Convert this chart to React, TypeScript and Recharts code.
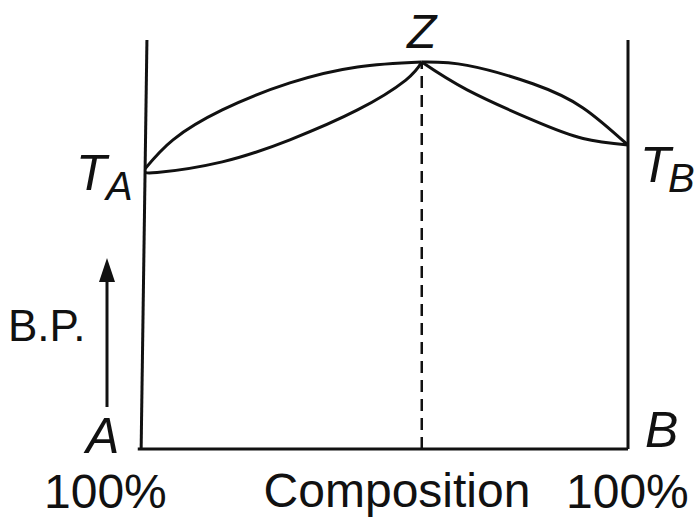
import React from 'react';
import { ComposedChart, XAxis, YAxis, Line, ReferenceLine } from 'recharts';

// composition of B (%) vs boiling point (relative units)
const vaporLeft = [
  { x: 0, y: 68.5 },
  { x: 5.8, y: 75.6 },
  { x: 16, y: 82.9 },
  { x: 30, y: 89.5 },
  { x: 44, y: 93.4 },
  { x: 57.3, y: 94.6 },
];
const liquidLeft = [
  { x: 0, y: 68 },
  { x: 2.5, y: 67.6 },
  { x: 16, y: 70.2 },
  { x: 30, y: 75.6 },
  { x: 44, y: 82.9 },
  { x: 54, y: 90.2 },
  { x: 57.3, y: 94.6 },
];
const vaporRight = [
  { x: 57.3, y: 94.6 },
  { x: 66.7, y: 93.8 },
  { x: 80.3, y: 89.3 },
  { x: 90.7, y: 83.4 },
  { x: 100, y: 74.3 },
];
const liquidRight = [
  { x: 57.3, y: 94.6 },
  { x: 66.7, y: 87.8 },
  { x: 80.3, y: 80.4 },
  { x: 90.7, y: 75.9 },
  { x: 100, y: 74.3 },
];
const azeotropeX = 57.3;
const azeotropeY = 94.6;

const ink = '#111';
const font = '"Liberation Sans", Arial, sans-serif';

export default function App() {
  const curve = (data: { x: number; y: number }[], key: string) => (
    <Line
      key={key}
      data={data}
      dataKey="y"
      type="natural"
      stroke={ink}
      strokeWidth={3}
      dot={false}
      activeDot={false}
      isAnimationActive={false}
    />
  );
  return (
    <div style={{ position: 'absolute', left: 0, top: 0, width: 697, height: 520, background: '#fff' }}>
      <ComposedChart width={697} height={520} margin={{ top: 40, right: 69, bottom: 71, left: 145 }}>
        <XAxis type="number" dataKey="x" domain={[0, 100]} hide allowDataOverflow />
        <YAxis type="number" domain={[0, 100]} hide allowDataOverflow />
        <ReferenceLine segment={[{ x: -0.8, y: 0 }, { x: 0.4, y: 100 }]} stroke={ink} strokeWidth={3} ifOverflow="visible" />
        <ReferenceLine segment={[{ x: 100, y: 0 }, { x: 100, y: 100 }]} stroke={ink} strokeWidth={3} ifOverflow="visible" />
        <ReferenceLine segment={[{ x: -1.5, y: 0 }, { x: 100, y: 0 }]} stroke={ink} strokeWidth={3} ifOverflow="visible" />
        <ReferenceLine
          segment={[{ x: azeotropeX, y: 0 }, { x: azeotropeX, y: azeotropeY }]}
          stroke={ink}
          strokeWidth={2.5}
          strokeDasharray="12 7"
          ifOverflow="visible"
        />
        {curve(vaporLeft, 'vl')}
        {curve(liquidLeft, 'll')}
        {curve(vaporRight, 'vr')}
        {curve(liquidRight, 'lr')}
      </ComposedChart>
      <svg width={697} height={520} style={{ position: 'absolute', left: 0, top: 0, pointerEvents: 'none' }}>
        <g fill={ink} fontFamily={font}>
          <text x={407} y={48} fontSize={48} fontStyle="italic">Z</text>
          <text x={76} y={190} fontSize={50} fontStyle="italic">T</text>
          <text x={106} y={200} fontSize={40} fontStyle="italic">A</text>
          <text x={640} y={182} fontSize={50} fontStyle="italic">T</text>
          <text x={668} y={192} fontSize={40} fontStyle="italic">B</text>
          <text x={86} y={453} fontSize={50} fontStyle="italic">A</text>
          <text x={645} y={447} fontSize={50} fontStyle="italic">B</text>
          <text x={8} y={341} fontSize={44}>B.P.</text>
          <text x={44} y={508} fontSize={48}>100%</text>
          <text x={397} y={507} fontSize={48} textAnchor="middle">Composition</text>
          <text x={566} y={508} fontSize={48}>100%</text>
        </g>
        <line x1={107} y1={407} x2={107} y2={275} stroke={ink} strokeWidth={3} />
        <polygon points="107,258 99,282 115,282" fill={ink} />
      </svg>
    </div>
  );
}
